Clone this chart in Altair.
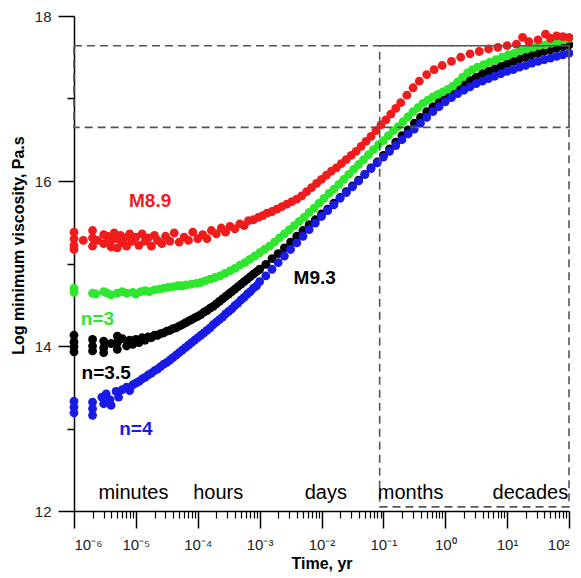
import math
import altair as alt
import pandas as pd

# ---------------- data (log10 time in yr, log10 viscosity in Pa.s) ----------------
red_points = [
    (-6.0, 15.38), (-6.0, 15.30), (-6.0, 15.22), (-6.0, 15.17), (-5.85, 15.28),
    (-5.70, 15.40), (-5.70, 15.31), (-5.70, 15.21), (-5.62, 15.28), (-5.52, 15.35), (-5.52, 15.24),
    (-5.46, 15.33), (-5.40, 15.28), (-5.40, 15.20), (-5.35, 15.37), (-5.30, 15.30), (-5.30, 15.19),
    (-5.25, 15.34), (-5.22, 15.25), (-5.18, 15.31), (-5.15, 15.21), (-5.10, 15.36), (-5.06, 15.27),
    (-5.00, 15.32), (-4.95, 15.22), (-4.90, 15.36), (-4.85, 15.27), (-4.80, 15.31), (-4.75, 15.21),
    (-4.70, 15.34), (-4.65, 15.28), (-4.58, 15.24), (-4.52, 15.33), (-4.45, 15.27), (-4.38, 15.37),
    (-4.30, 15.26), (-4.22, 15.32), (-4.15, 15.28), (-4.08, 15.38), (-4.00, 15.30), (-3.92, 15.35),
    (-3.85, 15.30), (-3.78, 15.40), (-3.70, 15.36), (-3.62, 15.43), (-3.55, 15.38), (-3.48, 15.45),
    (-3.40, 15.42), (-3.32, 15.48), (-3.25, 15.46), (-3.18, 15.52), (-3.10, 15.53), (-3.02, 15.56),
    (-2.95, 15.58), (-2.88, 15.61), (-2.80, 15.63), (-2.72, 15.66), (-2.64, 15.69), (-2.56, 15.72),
    (-2.48, 15.75), (-2.40, 15.78), (-2.32, 15.82), (-2.24, 15.87), (-2.16, 15.92), (-2.08, 15.97),
    (-2.00, 16.02), (-1.92, 16.07), (-1.84, 16.12), (-1.76, 16.16), (-1.68, 16.21), (-1.60, 16.26),
    (-1.52, 16.31), (-1.44, 16.36), (-1.36, 16.42), (-1.28, 16.48), (-1.20, 16.54), (-1.12, 16.61),
    (-1.04, 16.68), (-0.96, 16.74), (-0.88, 16.81), (-0.80, 16.88), (-0.72, 16.95), (-0.62, 17.04),
    (-0.52, 17.13), (-0.42, 17.21), (-0.30, 17.29), (-0.18, 17.35), (-0.05, 17.40), (0.10, 17.45),
    (0.25, 17.50), (0.40, 17.54), (0.55, 17.57), (0.70, 17.60), (0.85, 17.62), (1.00, 17.64),
    (1.15, 17.66), (1.25, 17.74), (1.35, 17.69), (1.50, 17.71), (1.62, 17.78), (1.70, 17.73),
    (1.80, 17.76), (1.90, 17.75), (2.00, 17.74),
]

green_points = [
    (-6.0, 14.70), (-6.0, 14.65), (-5.70, 14.64), (-5.65, 14.63), (-5.52, 14.66), (-5.46, 14.64),
    (-5.40, 14.62), (-5.30, 14.64), (-5.22, 14.66), (-5.15, 14.64), (-5.05, 14.65), (-5.00, 14.63),
    (-4.92, 14.66), (-4.85, 14.67), (-4.78, 14.66), (-4.70, 14.68), (-4.62, 14.69), (-4.55, 14.70),
    (-4.48, 14.71), (-4.40, 14.72), (-4.32, 14.73), (-4.25, 14.73), (-4.18, 14.74), (-4.10, 14.75),
    (-4.02, 14.76), (-3.95, 14.77), (-3.88, 14.79), (-3.80, 14.81), (-3.72, 14.83), (-3.64, 14.85),
    (-3.56, 14.88), (-3.48, 14.91), (-3.40, 14.94), (-3.32, 14.98), (-3.24, 15.01), (-3.16, 15.05),
    (-3.08, 15.09), (-3.00, 15.13), (-2.92, 15.17), (-2.84, 15.21), (-2.76, 15.26), (-2.68, 15.31),
    (-2.60, 15.36), (-2.52, 15.41), (-2.44, 15.46), (-2.36, 15.51), (-2.28, 15.56), (-2.20, 15.62),
    (-2.12, 15.67), (-2.04, 15.73), (-1.96, 15.79), (-1.88, 15.85), (-1.80, 15.90), (-1.72, 15.96),
    (-1.64, 16.02), (-1.56, 16.08), (-1.48, 16.14), (-1.40, 16.20), (-1.32, 16.26), (-1.24, 16.32),
    (-1.16, 16.38), (-1.08, 16.44), (-1.00, 16.49), (-0.92, 16.55), (-0.84, 16.61), (-0.76, 16.66),
    (-0.68, 16.72), (-0.60, 16.78), (-0.52, 16.84), (-0.44, 16.89), (-0.36, 16.94), (-0.28, 16.98),
    (-0.20, 17.02), (-0.12, 17.05), (-0.04, 17.08), (0.04, 17.11), (0.12, 17.15), (0.20, 17.20),
    (0.28, 17.26), (0.36, 17.31), (0.44, 17.35), (0.52, 17.38), (0.62, 17.41), (0.72, 17.44),
    (0.82, 17.47), (0.92, 17.50), (1.02, 17.53), (1.12, 17.55), (1.22, 17.58), (1.32, 17.60),
    (1.42, 17.62), (1.52, 17.64), (1.62, 17.65), (1.72, 17.67), (1.82, 17.69), (1.92, 17.71),
    (2.00, 17.73),
]

black_points = [
    (-6.0, 14.13), (-6.0, 14.05), (-6.0, 13.99), (-6.0, 13.93), (-5.70, 14.08), (-5.70, 14.00),
    (-5.70, 13.94), (-5.52, 14.06), (-5.52, 13.98), (-5.52, 13.92), (-5.40, 14.03), (-5.30, 14.12),
    (-5.30, 14.04), (-5.30, 13.96), (-5.22, 14.09), (-5.15, 14.00), (-5.10, 14.07), (-5.05, 14.02),
    (-5.00, 14.08), (-4.95, 14.04), (-4.90, 14.10), (-4.85, 14.07), (-4.80, 14.11), (-4.75, 14.10),
    (-4.70, 14.13), (-4.65, 14.13), (-4.60, 14.15), (-4.55, 14.16), (-4.50, 14.18), (-4.45, 14.19),
    (-4.40, 14.21), (-4.35, 14.22), (-4.30, 14.24), (-4.25, 14.26), (-4.20, 14.28), (-4.15, 14.30),
    (-4.10, 14.32), (-4.05, 14.34), (-4.00, 14.36), (-3.95, 14.38), (-3.90, 14.41), (-3.85, 14.43),
    (-3.80, 14.46), (-3.75, 14.48), (-3.70, 14.51), (-3.65, 14.54), (-3.60, 14.57), (-3.55, 14.60),
    (-3.50, 14.63), (-3.45, 14.66), (-3.40, 14.69), (-3.35, 14.72), (-3.30, 14.75), (-3.25, 14.78),
    (-3.20, 14.81), (-3.15, 14.84), (-3.10, 14.87), (-3.05, 14.90), (-3.00, 14.93), (-2.90, 14.99),
    (-2.80, 15.06), (-2.70, 15.12), (-2.60, 15.19), (-2.50, 15.26), (-2.40, 15.33), (-2.30, 15.40),
    (-2.20, 15.47), (-2.10, 15.53), (-2.00, 15.60), (-1.90, 15.66), (-1.80, 15.73), (-1.70, 15.80),
    (-1.60, 15.87), (-1.50, 15.94), (-1.40, 16.01), (-1.30, 16.08), (-1.20, 16.16), (-1.10, 16.23),
    (-1.00, 16.31), (-0.90, 16.39), (-0.80, 16.47), (-0.70, 16.55), (-0.60, 16.62), (-0.50, 16.70),
    (-0.40, 16.77), (-0.30, 16.84), (-0.20, 16.90), (-0.10, 16.96), (0.00, 17.02), (0.10, 17.07),
    (0.20, 17.12), (0.30, 17.17), (0.40, 17.22), (0.50, 17.26), (0.60, 17.30), (0.70, 17.33),
    (0.80, 17.36), (0.90, 17.39), (1.00, 17.42), (1.10, 17.45), (1.20, 17.48), (1.30, 17.50),
    (1.40, 17.53), (1.50, 17.55), (1.60, 17.57), (1.70, 17.59), (1.80, 17.61), (1.90, 17.63),
    (2.00, 17.65),
]

blue_points = [
    (-6.0, 13.33), (-6.0, 13.26), (-6.0, 13.19), (-5.70, 13.32), (-5.70, 13.24), (-5.70, 13.16),
    (-5.55, 13.38), (-5.52, 13.30), (-5.48, 13.42), (-5.42, 13.35), (-5.40, 13.28), (-5.32, 13.45),
    (-5.28, 13.38), (-5.22, 13.47), (-5.15, 13.50), (-5.10, 13.46), (-5.05, 13.53), (-5.00, 13.55),
    (-4.95, 13.57), (-4.90, 13.60), (-4.85, 13.62), (-4.80, 13.65), (-4.75, 13.67), (-4.70, 13.70),
    (-4.65, 13.72), (-4.60, 13.75), (-4.55, 13.78), (-4.50, 13.80), (-4.45, 13.83), (-4.40, 13.86),
    (-4.35, 13.89), (-4.30, 13.92), (-4.25, 13.95), (-4.20, 13.98), (-4.15, 14.01), (-4.10, 14.04),
    (-4.05, 14.07), (-4.00, 14.10), (-3.95, 14.13), (-3.90, 14.16), (-3.85, 14.19), (-3.80, 14.22),
    (-3.75, 14.26), (-3.70, 14.29), (-3.65, 14.32), (-3.60, 14.35), (-3.55, 14.39), (-3.50, 14.42),
    (-3.45, 14.45), (-3.40, 14.49), (-3.35, 14.52), (-3.30, 14.56), (-3.25, 14.59), (-3.20, 14.63),
    (-3.15, 14.66), (-3.10, 14.70), (-3.05, 14.73), (-3.00, 14.78), (-2.90, 14.85), (-2.80, 14.93),
    (-2.70, 15.01), (-2.60, 15.09), (-2.50, 15.17), (-2.40, 15.25), (-2.30, 15.33), (-2.20, 15.41),
    (-2.10, 15.49), (-2.00, 15.57), (-1.90, 15.64), (-1.80, 15.71), (-1.70, 15.79), (-1.60, 15.86),
    (-1.50, 15.93), (-1.40, 16.00), (-1.30, 16.08), (-1.20, 16.15), (-1.10, 16.22), (-1.00, 16.29),
    (-0.90, 16.36), (-0.80, 16.43), (-0.70, 16.50), (-0.60, 16.57), (-0.50, 16.63), (-0.40, 16.70),
    (-0.30, 16.77), (-0.20, 16.84), (-0.10, 16.90), (0.00, 16.96), (0.10, 17.01), (0.20, 17.06),
    (0.30, 17.10), (0.40, 17.14), (0.50, 17.18), (0.60, 17.21), (0.70, 17.24), (0.80, 17.27),
    (0.90, 17.30), (1.00, 17.33), (1.10, 17.35), (1.20, 17.38), (1.30, 17.40), (1.40, 17.43),
    (1.50, 17.45), (1.60, 17.47), (1.70, 17.49), (1.80, 17.51), (1.90, 17.53), (2.00, 17.55),
]

series_names = ["n=3.5", "n=4", "n=3", "M8.9"]          # drawing order
series_colors = ["#000000", "#1a1ae6", "#2ee62e", "#f01c1c"]

# dashed boxes
box_x1 = [-6.0, -1.06]
box_x2 = [2.0, 2.0]
box_y1 = [16.65, 12.05]
box_y2 = [17.64, 17.64]

# annotations
bold_labels = ["M8.9", "M9.3", "n=3", "n=3.5", "n=4"]
bold_x = [-4.77, -2.11, -5.62, -5.48, -5.00]
bold_y = [15.76, 14.83, 14.33, 13.67, 13.00]
bold_colors = ["#f01c1c", "#000000", "#2ee62e", "#000000", "#1a1ae6"]

period_labels = ["minutes", "hours", "days", "months", "decades"]
period_x = [-5.04, -3.67, -1.93, -0.56, 1.375]
period_y = [12.22, 12.22, 12.22, 12.22, 12.22]

x_major = [-6, -5, -4, -3, -2, -1, 0, 1, 2]
y_major = [12, 14, 16, 18]
y_minor = [13, 15, 17]

# ---------------- build tables ----------------
frames = []
for name, pts in zip(series_names, [black_points, blue_points, green_points, red_points]):
    frames.append(pd.DataFrame({"logt": [p[0] for p in pts],
                                "visc": [p[1] for p in pts],
                                "series": name}))
points = pd.concat(frames, ignore_index=True)

boxes = pd.DataFrame({"x1": box_x1, "x2": box_x2, "y1": box_y1, "y2": box_y2})
bold_df = pd.DataFrame({"label": bold_labels, "x": bold_x, "y": bold_y, "color": bold_colors})
period_df = pd.DataFrame({"label": period_labels, "x": period_x, "y": period_y})

x_minor = [n + math.log10(k) for n in range(-6, 2) for k in range(2, 10)]

sup = str.maketrans("-0123456789", "⁻⁰¹²³⁴⁵⁶⁷⁸⁹")
x_label_expr = " : ".join(
    f"datum.value == {v} ? '10{str(v).translate(sup)}'" for v in x_major) + " : ''"

FONT = "Liberation Sans"
xscale = alt.Scale(domain=[-6, 2], nice=False, zero=False)
yscale = alt.Scale(domain=[12, 18], nice=False, zero=False)

x_axis_major = alt.Axis(values=x_major, labelExpr=x_label_expr, tickSize=17, tickWidth=1.5,
                        tickColor="#000", domainColor="#000", domainWidth=1.5, grid=False,
                        labelFont=FONT, labelFontSize=15, labelColor="#222", labelPadding=9,
                        title="Time, yr", titleFont=FONT, titleFontSize=16, titleFontWeight="bold",
                        titleColor="#000", titlePadding=3, orient="bottom")
y_axis_major = alt.Axis(values=y_major, format="d", tickSize=16, tickWidth=1.5,
                        tickColor="#000", domainColor="#000", domainWidth=1.5, grid=False,
                        labelFont=FONT, labelFontSize=15, labelColor="#222", labelPadding=7,
                        title="Log minimum viscosity, Pa.s", titleFont=FONT, titleFontSize=16,
                        titleFontWeight="bold", titleColor="#000", titleX=-56, titleY=229,
                        titleBaseline="middle", orient="left")
x_axis_minor = alt.Axis(values=x_minor, labels=False, tickSize=7, tickWidth=1.2, tickColor="#000",
                        domain=False, grid=False, title=None, orient="bottom")
y_axis_minor = alt.Axis(values=y_minor, labels=False, tickSize=7, tickWidth=1.5, tickColor="#000",
                        domain=False, grid=False, title=None, orient="left")

dots = alt.Chart(points).mark_circle(size=78, opacity=1).encode(
    x=alt.X("logt:Q", scale=xscale, axis=x_axis_major),
    y=alt.Y("visc:Q", scale=yscale, axis=y_axis_major),
    color=alt.Color("series:N", scale=alt.Scale(domain=series_names, range=series_colors), legend=None),
)

box_layer = alt.Chart(boxes).mark_rect(fillOpacity=0, stroke="#555555", strokeWidth=1.6,
                                       strokeDash=[8, 5]).encode(
    x=alt.X("x1:Q", scale=xscale, axis=x_axis_minor),
    x2="x2:Q",
    y=alt.Y("y1:Q", scale=yscale, axis=y_axis_minor),
    y2="y2:Q",
)

bold_text = alt.Chart(bold_df).mark_text(font=FONT, fontSize=19, fontWeight="bold").encode(
    x=alt.X("x:Q", scale=xscale, axis=None),
    y=alt.Y("y:Q", scale=yscale, axis=None),
    text="label:N",
    color=alt.Color("color:N", scale=None),
)

period_text = alt.Chart(period_df).mark_text(font=FONT, fontSize=20, color="#000").encode(
    x=alt.X("x:Q", scale=xscale, axis=None),
    y=alt.Y("y:Q", scale=yscale, axis=None),
    text="label:N",
)

chart = alt.layer(dots, box_layer, bold_text, period_text).resolve_axis(
    x="independent", y="independent"
).properties(
    width=495, height=495,
    padding={"left": 66, "top": 8, "right": 4, "bottom": 62},
    autosize=alt.AutoSizeParams(type="none"),
    background="white",
).configure_view(stroke=None)

chart.save("out.html", embed_options={"renderer": "svg", "actions": False})
